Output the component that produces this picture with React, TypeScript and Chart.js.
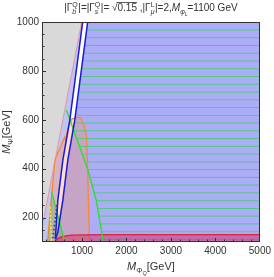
import React, { useEffect, useRef } from "react";
import { Chart, registerables } from "chart.js";
Chart.register(...registerables);

const X_TICKS = [1000, 2000, 3000, 4000, 5000];
const Y_TICKS = [200, 400, 600, 800, 1000];

type P = { x: number; y: number };

const grayRegion: P[] = [
  { x: 100, y: 1000 }, { x: 993, y: 1000 }, { x: 569, y: 600 }, { x: 100, y: 158 },
];
const grayEdge: P[] = [{ x: 993, y: 1000 }, { x: 569, y: 600 }, { x: 100, y: 158 }];
const curveA: P[] = [
  { x: 1015, y: 1000 }, { x: 725, y: 599 }, { x: 569, y: 435 }, { x: 457, y: 272 }, { x: 400, y: 112 },
];
const curveB: P[] = [
  { x: 1127, y: 1000 }, { x: 837, y: 599 }, { x: 680, y: 435 }, { x: 569, y: 272 }, { x: 457, y: 141 }, { x: 405, y: 112 },
];
const lightBand: P[] = [
  { x: 993, y: 1000 }, { x: 1015, y: 1000 }, { x: 725, y: 599 }, { x: 569, y: 435 }, { x: 457, y: 272 },
  { x: 400, y: 100 }, { x: 100, y: 100 }, { x: 100, y: 158 }, { x: 569, y: 600 },
];
const blueRegion: P[] = [
  { x: 1127, y: 1000 }, { x: 837, y: 599 }, { x: 680, y: 435 }, { x: 569, y: 272 }, { x: 457, y: 141 },
  { x: 405, y: 100 }, { x: 5000, y: 100 }, { x: 5000, y: 1000 },
];
const orangeRegion: P[] = [
  { x: 225, y: 100 }, { x: 390, y: 435 }, { x: 613, y: 530 }, { x: 636, y: 513 }, { x: 680, y: 566 },
  { x: 770, y: 603 }, { x: 881, y: 611 }, { x: 970, y: 607 }, { x: 1037, y: 583 }, { x: 1104, y: 530 },
  { x: 1127, y: 395 }, { x: 1149, y: 231 }, { x: 1171, y: 100 },
];
const greenDiag: P[] = [
  { x: 650, y: 640 }, { x: 1134, y: 394 }, { x: 1318, y: 272 }, { x: 1480, y: 100 },
];
const greenLowRegion: P[] = [{ x: 316, y: 306 }, { x: 613, y: 100 }, { x: 225, y: 100 }];
const greenLow: P[] = [{ x: 316, y: 306 }, { x: 613, y: 100 }];
const yellowDash: P[] = [{ x: 279, y: 244 }, { x: 316, y: 104 }];
const blueDots: P[] = [{ x: 435, y: 251 }, { x: 345, y: 116 }];
const redRegion: P[] = [
  { x: 400, y: 100 }, { x: 430, y: 112 }, { x: 550, y: 122 }, { x: 763, y: 128 }, { x: 1500, y: 130 },
  { x: 5000, y: 130 }, { x: 5000, y: 100 },
];
const redTop: P[] = [
  { x: 400, y: 100 }, { x: 430, y: 112 }, { x: 550, y: 122 }, { x: 763, y: 128 }, { x: 1500, y: 130 }, { x: 5000, y: 130 },
];
const hatchY = [110, 142, 174, 206, 237, 269, 301, 333, 364, 396, 428, 460, 491, 523, 555, 587, 618, 650, 682, 713, 745, 777, 809, 840, 872, 904, 936, 967];

function xAtY(curve: P[], y: number): number {
  for (let i = 0; i < curve.length - 1; i++) {
    const a = curve[i], b = curve[i + 1];
    const lo = Math.min(a.y, b.y), hi = Math.max(a.y, b.y);
    if (y >= lo && y <= hi) {
      return a.x + ((y - a.y) / (b.y - a.y)) * (b.x - a.x);
    }
  }
  return -Infinity;
}

const FAM = '"Liberation Sans", Arial, sans-serif';
type Seg = { t?: string; it?: boolean; s?: number; dy?: number; ol?: boolean; sub?: string; sup?: string };
function font(size: number, it?: boolean) {
  return `${it ? "italic " : ""}${size}px ${FAM}`;
}
function segWidth(ctx: CanvasRenderingContext2D, sg: Seg, base: number) {
  if (sg.sub !== undefined || sg.sup !== undefined) {
    ctx.font = font(base * 0.7, true);
    const a = ctx.measureText(sg.sub || "").width;
    ctx.font = font(base * 0.7, false);
    const b = ctx.measureText(sg.sup || "").width;
    return Math.max(a, b) + 0.5;
  }
  ctx.font = font(base * (sg.s || 1), sg.it);
  return ctx.measureText(sg.t || "").width;
}
function drawRich(ctx: CanvasRenderingContext2D, segs: Seg[], cx: number, y: number, base: number) {
  let total = 0;
  for (const sg of segs) total += segWidth(ctx, sg, base);
  let x = cx - total / 2;
  ctx.textAlign = "left";
  ctx.textBaseline = "alphabetic";
  for (const sg of segs) {
    const w = segWidth(ctx, sg, base);
    if (sg.sub !== undefined || sg.sup !== undefined) {
      ctx.font = font(base * 0.7, true);
      ctx.fillText(sg.sub || "", x, y + base * 0.3);
      ctx.font = font(base * 0.7, false);
      ctx.fillText(sg.sup || "", x, y - base * 0.42);
    } else {
      ctx.font = font(base * (sg.s || 1), sg.it);
      ctx.fillText(sg.t || "", x, y + (sg.dy || 0));
      if (sg.ol) {
        ctx.fillRect(x - 1, y - base * 0.9, w + 1, 0.8);
      }
    }
    x += w;
  }
}

const titleSegs: Seg[] = [
  { t: "|Γ" }, { sub: "b", sup: "Q" }, { t: "|=|Γ" }, { sub: "s", sup: "Q" }, { t: "|= " },
  { t: "√" }, { t: "0.15", ol: true }, { t: " ,|Γ" }, { sub: "μ", sup: "L" }, { t: "|=2," },
  { t: "M", it: true }, { t: "φ", s: 0.7, dy: 2.5, it: true }, { t: "L", s: 0.5, dy: 4.5 }, { t: "=1100 GeV" },
];
const xTitleSegs: Seg[] = [
  { t: "M", it: true }, { t: "Φ", s: 0.7, dy: 2.5 }, { t: "Q", s: 0.5, dy: 4.5 }, { t: "[GeV]" },
];
const yTitleSegs: Seg[] = [{ t: "M", it: true }, { t: "Ψ", s: 0.7, dy: 2.5 }, { t: "[GeV]" }];

const framePlugin = {
  id: "frameText",
  afterDraw(chart: any) {
    const { ctx, chartArea, scales } = chart;
    const { left, right, top, bottom } = chartArea;
    const xs = scales.x, ys = scales.y;
    ctx.save();
    ctx.strokeStyle = "#333";
    ctx.lineWidth = 1;
    ctx.beginPath();
    for (let v = 200; v < 5000; v += 200) {
      const px = Math.round(xs.getPixelForValue(v)) + 0.5;
      const len = v % 1000 === 0 ? 4 : 2.5;
      ctx.moveTo(px, bottom);
      ctx.lineTo(px, bottom - len);
    }
    for (let v = 150; v < 1000; v += 50) {
      const py = Math.round(ys.getPixelForValue(v)) + 0.5;
      const len = v % 200 === 0 ? 4 : 2.5;
      ctx.moveTo(left, py);
      ctx.lineTo(left + len, py);
    }
    ctx.stroke();
    ctx.strokeRect(Math.round(left) + 0.5, Math.round(top) + 0.5, Math.round(right - left) - 1, Math.round(bottom - top) - 1);
    ctx.fillStyle = "#333";
    const cx = (left + right) / 2;
    drawRich(ctx, titleSegs, cx, 11, 10);
    drawRich(ctx, xTitleSegs, cx, 270, 11);
    ctx.save();
    ctx.translate(10, (top + bottom) / 2);
    ctx.rotate(-Math.PI / 2);
    drawRich(ctx, yTitleSegs, 0, 0, 11);
    ctx.restore();
    ctx.restore();
  },
};

function line(data: P[], color: string, width: number, dash?: number[]) {
  return { data, borderColor: color, borderWidth: width, borderDash: dash || [], fill: false, pointRadius: 0, tension: 0 };
}
function poly(data: P[], fillColor: string, borderColor = "transparent", width = 0) {
  return { data, backgroundColor: fillColor, borderColor, borderWidth: width, fill: "shape", pointRadius: 0, tension: 0 };
}

export default function App() {
  const ref = useRef<HTMLCanvasElement>(null);
  useEffect(() => {
    if (!ref.current) return;
    const layers: any[] = [];
    layers.push(poly(grayRegion, "rgb(217,217,217)"));
    layers.push(poly(lightBand, "rgb(192,196,242)"));
    layers.push(poly(blueRegion, "rgb(172,172,248)"));
    layers.push(poly(orangeRegion, "rgba(255,150,90,0.32)", "rgb(255,135,40)", 1.3));
    layers.push(poly(greenLowRegion, "rgba(110,170,100,0.35)"));
    for (const hy of hatchY) {
      const xs = Math.max(xAtY(curveB, hy), hy <= 640 ? xAtY(greenDiag, hy) : -Infinity, 100);
      layers.push(line([{ x: xs, y: hy }, { x: 5000, y: hy }], "rgb(80,205,120)", 1));
    }
    layers.push(poly(redRegion, "rgba(220,30,80,0.45)"));
    layers.push(line(redTop, "rgb(225,30,60)", 1.3));
    layers.push(line(greenDiag, "rgb(40,225,40)", 1.3));
    layers.push(line(greenLow, "rgb(40,225,40)", 1.3));
    layers.push(line(grayEdge, "rgba(230,140,160,0.9)", 1));
    layers.push(line(curveA, "rgb(25,25,225)", 1.5));
    layers.push(line(curveB, "rgb(25,25,225)", 1.5));
    layers.push(line(yellowDash, "rgb(250,240,40)", 1.5, [2, 2]));
    layers.push(line(blueDots, "rgb(40,40,200)", 1.5, [1.5, 2.5]));
    const datasets = layers.map((d, i) => ({ ...d, order: layers.length - i }));

    const tickFont = { family: FAM, size: 10 };
    const chart = new Chart(ref.current, {
      type: "line",
      data: { datasets },
      options: {
        responsive: false,
        animation: false,
        devicePixelRatio: 1,
        layout: { padding: { left: 0, right: 12.5, top: 22, bottom: 0 } },
        plugins: { legend: { display: false }, tooltip: { enabled: false }, title: { display: false } },
        scales: {
          x: {
            type: "linear", min: 100, max: 5000,
            grid: { display: false, drawTicks: false }, border: { display: false },
            afterBuildTicks: (s: any) => { s.ticks = X_TICKS.map((v) => ({ value: v })); },
            afterFit: (s: any) => { s.height = 35; },
            ticks: { font: tickFont, color: "#333", padding: 3, maxRotation: 0, autoSkip: false, callback: (v: any) => String(v) },
          },
          y: {
            type: "linear", min: 100, max: 1000,
            grid: { display: false, drawTicks: false }, border: { display: false },
            afterBuildTicks: (s: any) => { s.ticks = Y_TICKS.map((v) => ({ value: v })); },
            afterFit: (s: any) => { s.width = 42; },
            ticks: { font: tickFont, color: "#333", padding: 3, autoSkip: false, callback: (v: any) => String(v) },
          },
        },
      } as any,
      plugins: [framePlugin],
    });
    return () => chart.destroy();
  }, []);
  return (
    <div style={{ position: "absolute", left: 0, top: 0, width: 274, height: 277 }}>
      <canvas ref={ref} width={274} height={277} style={{ width: 274, height: 277 }} />
    </div>
  );
}
